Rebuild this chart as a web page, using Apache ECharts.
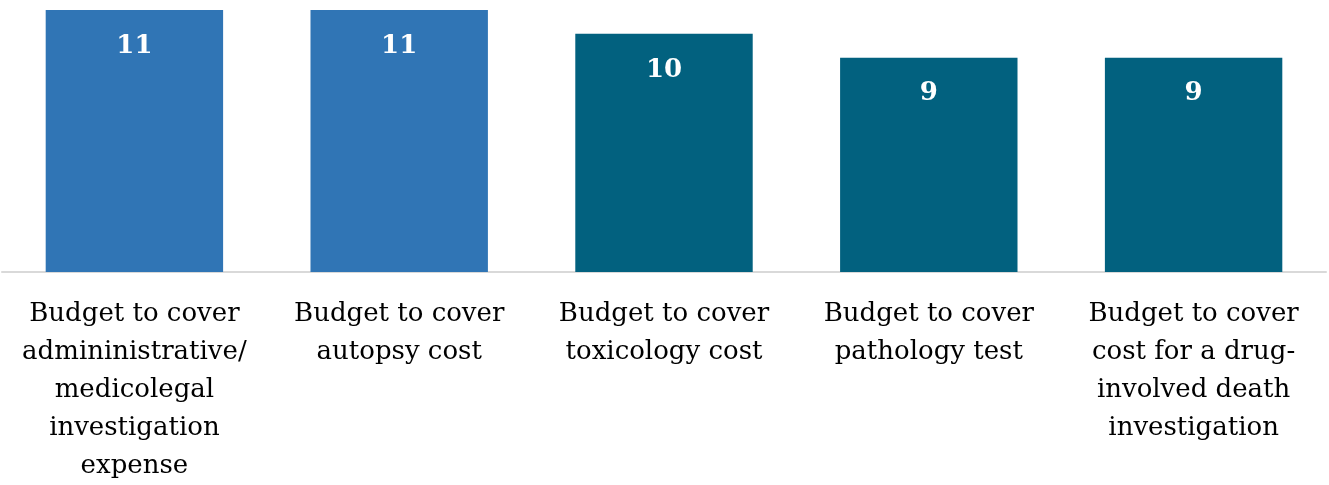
<!DOCTYPE html>
<html>
<head>
<meta charset="utf-8">
<script src="https://cdn.jsdelivr.net/npm/echarts@6/dist/echarts.min.js"></script>
<style>
  html, body { margin: 0; padding: 0; background: #fff; }
  #chart { width: 1329px; height: 485px; }
</style>
</head>
<body>
<div id="chart"></div>
<script>
// Budget categories (line breaks as drawn under each bar)
const categories = [
  'Budget to cover\nadmininistrative/\nmedicolegal\ninvestigation\nexpense',
  'Budget to cover\nautopsy cost',
  'Budget to cover\ntoxicology cost',
  'Budget to cover\npathology test',
  'Budget to cover\ncost for a drug-\ninvolved death\ninvestigation'
];
const counts = [11, 11, 10, 9, 9];
const barColors = ['#3075B5', '#3075B5', '#02617F', '#02617F', '#02617F'];

const chart = echarts.init(document.getElementById('chart'), null, { renderer: 'canvas' });
chart.setOption({
  animation: false,
  grid: { left: 2, right: 3, top: 10, bottom: 209, containLabel: false },
  xAxis: {
    type: 'category',
    data: categories,
    axisLine: { show: true, lineStyle: { color: '#D9D9D9', width: 2 } },
    axisTick: { show: false },
    axisLabel: {
      interval: 0,
      margin: 23,
      color: '#000',
      fontFamily: 'DejaVu Serif',
      fontSize: 26,
      lineHeight: 38,
      align: 'center'
    }
  },
  yAxis: {
    type: 'value',
    min: 0,
    max: 11,
    show: false,
    splitLine: { show: false }
  },
  series: [{
    type: 'bar',
    barCategoryGap: '33%',
    data: counts.map((v, i) => ({ value: v, itemStyle: { color: barColors[i] } })),
    label: {
      show: true,
      position: 'insideTop',
      distance: 23,
      color: '#fff',
      fontFamily: 'DejaVu Serif',
      fontWeight: 'bold',
      fontSize: 26
    }
  }]
});
</script>
</body>
</html>
